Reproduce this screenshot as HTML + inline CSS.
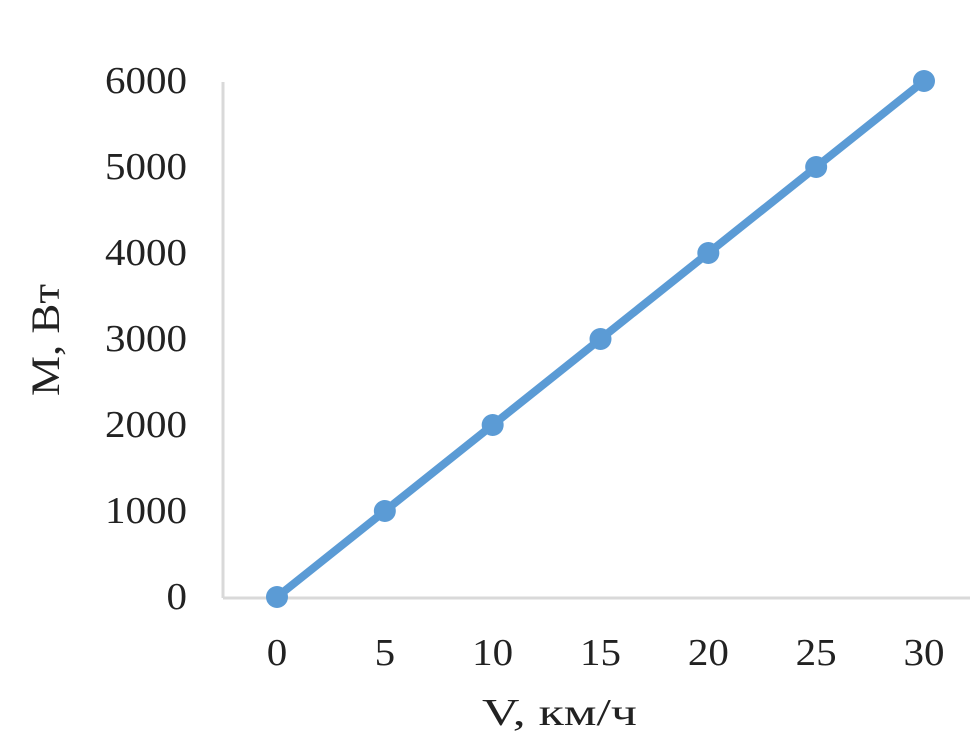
<!DOCTYPE html>
<html><head><meta charset="utf-8"><style>
body{margin:0;background:#fff}
text{font-family:"Liberation Serif",serif;fill:#222}
</style></head><body>
<svg width="970" height="737" xmlns="http://www.w3.org/2000/svg">
<g id="axes"></g><g id="series"></g>
</svg>
<script>
const xCats=[0,5,10,15,20,25,30];
const yVals=[0,1000,2000,3000,4000,5000,6000];
const yTicks=[0,1000,2000,3000,4000,5000,6000];
const NS="http://www.w3.org/2000/svg";
const X=v=>277+v*(924-277)/30;
const Y=v=>597-v*(597-81)/6000;
function mk(p,tag,at,txt){const e=document.createElementNS(NS,tag);for(const k in at)e.setAttribute(k,at[k]);if(txt!==undefined)e.textContent=txt;p.appendChild(e);return e;}
const ax=document.getElementById('axes'),se=document.getElementById('series');
let a=mk(ax,'line',{x1:223,y1:82,x2:223,y2:598,stroke:'#d9d9d9','stroke-width':3});

a=mk(ax,'line',{x1:223,y1:598,x2:970,y2:598,stroke:'#d9d9d9','stroke-width':3});

yTicks.forEach(t=>{const s=String(t);const e=mk(ax,'text',{x:187,y:Y(t)+12,'font-size':38,'text-anchor':'end',textLength:20.5*s.length,lengthAdjust:'spacingAndGlyphs'},s);
});
xCats.forEach(c=>{const s=String(c);const e=mk(ax,'text',{x:X(c)-10.25*s.length,y:665,'font-size':38,textLength:20.5*s.length,lengthAdjust:'spacingAndGlyphs'},s);
});
let t=mk(ax,'text',{x:482,y:725,'font-size':38,textLength:155,lengthAdjust:'spacingAndGlyphs'},'V, км/ч');

t=mk(ax,'text',{x:0,y:0,'font-size':40,'text-anchor':'middle',transform:'translate(59,340) rotate(-90)',textLength:112,lengthAdjust:'spacingAndGlyphs'},'M, Вт');

const pts=xCats.map((c,i)=>X(c)+','+Y(yVals[i])).join(' ');
const l=mk(se,'polyline',{points:pts,fill:'none',stroke:'#5b9bd5','stroke-width':8,'stroke-linejoin':'round'});

xCats.forEach((c,i)=>{const m=mk(se,'circle',{cx:X(c),cy:Y(yVals[i]),r:11,fill:'#5b9bd5'});
});
</script>
</body></html>
